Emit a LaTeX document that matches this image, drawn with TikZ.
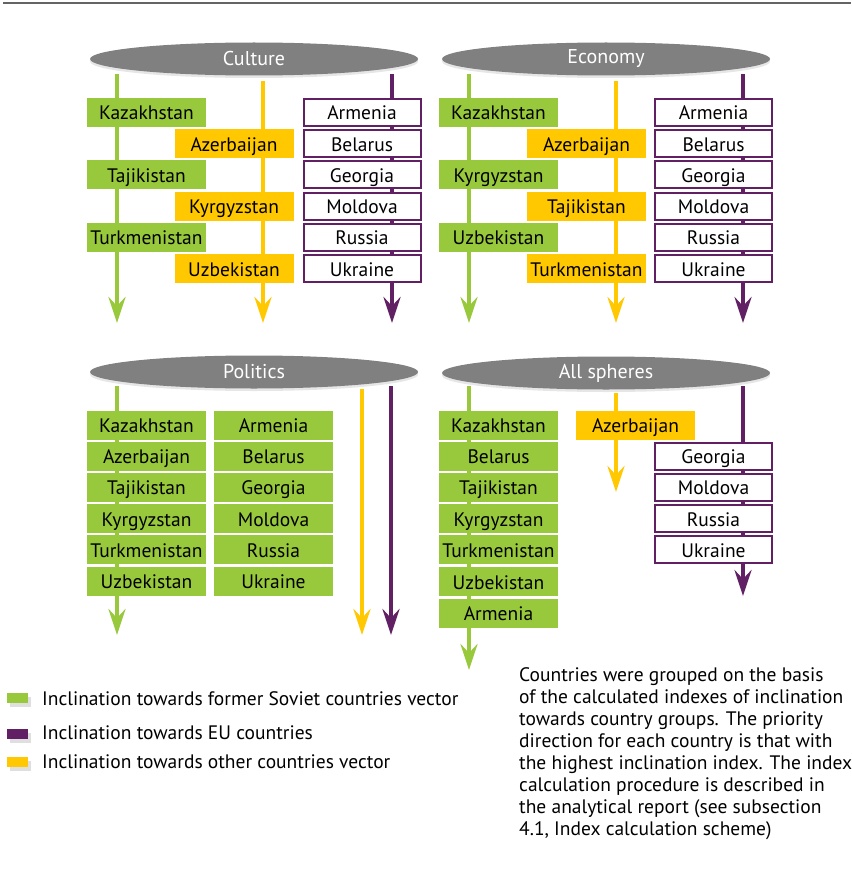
\documentclass[tikz,border=0pt]{standalone}
\usepackage{fontspec}
\setmainfont{PT Sans}
\usetikzlibrary{arrows.meta, shapes.geometric, shadows}
\definecolor{SovietGreen}{RGB}{152,200,60}
\definecolor{OtherYellow}{RGB}{255,200,0}
\definecolor{EUPurple}{RGB}{98,32,100}
\definecolor{SphereGray}{RGB}{128,128,128}
\definecolor{RuleGray}{RGB}{100,100,100}

\begin{document}
\begin{tikzpicture}[x=1pt, y=-1pt,
    sphere/.style={ellipse, fill=SphereGray, text=white, inner sep=0pt,
                   minimum width=328pt, minimum height=33pt,
                   font=\fontsize{20}{22}\selectfont,
                   drop shadow={shadow xshift=0pt, shadow yshift=-2.5pt, opacity=0.2}},
    cbox/.style={inner sep=0pt, minimum width=119pt, minimum height=29pt,
                 text height=17pt, text depth=2pt,
                 font=\fontsize{19.5}{21}\selectfont},
    gbox/.style={cbox, fill=SovietGreen},
    ybox/.style={cbox, fill=OtherYellow},
    pbox/.style={cbox, draw=EUPurple, fill=white, line width=2pt,
                 minimum width=117pt, minimum height=27pt},
    varr/.style={line width=4pt, -{Stealth[length=26pt, width=17pt, inset=9pt]}},
    garr/.style={varr, SovietGreen},
    yarr/.style={varr, OtherYellow},
    parr/.style={varr, EUPurple},
    key/.style={minimum width=21pt, minimum height=10pt, inner sep=0pt,
                drop shadow={shadow xshift=3pt, shadow yshift=-4pt, opacity=0.25}},
    keytext/.style={anchor=west, inner sep=0pt, font=\fontsize{19.5}{22}\selectfont}
  ]
  \useasboundingbox (0,0) rectangle (851,872);
  % Top rule
  \draw[RuleGray, line width=1.5pt] (3,3) coordinate (r1) -- (851,3) coordinate (r2);

  % Culture
  \draw[garr] (117,74) coordinate (cg1) -- (117,323) coordinate (cg2);
  \draw[yarr] (263,81) coordinate (cy1) -- (263,323) coordinate (cy2);
  \draw[parr] (392,74) coordinate (cp1) -- (392,323) coordinate (cp2);
  \node[sphere] (culture) at (254,59) {Culture};
  \node[gbox] (c-kaz) at (146.5,112.5) {Kazakhstan};
  \node[ybox] (c-aze) at (234,143.7) {Azerbaijan};
  \node[gbox] (c-taj) at (146.5,174.9) {Tajikistan};
  \node[ybox] (c-kyr) at (234,206.1) {Kyrgyzstan};
  \node[gbox] (c-tur) at (146.5,237.3) {Turkmenistan};
  \node[ybox] (c-uzb) at (234,268.5) {Uzbekistan};
  \node[pbox] (c-arm) at (362,112.5) {Armenia};
  \node[pbox] (c-bel) at (362,143.7) {Belarus};
  \node[pbox] (c-geo) at (362,174.9) {Georgia};
  \node[pbox] (c-mol) at (362,206.1) {Moldova};
  \node[pbox] (c-rus) at (362,237.3) {Russia};
  \node[pbox] (c-ukr) at (362,268.5) {Ukraine};

  % Economy
  \draw[garr] (469,74) coordinate (eg1) -- (469,323) coordinate (eg2);
  \draw[yarr] (616,81) coordinate (ey1) -- (616,323) coordinate (ey2);
  \draw[parr] (743,74) coordinate (ep1) -- (743,323) coordinate (ep2);
  \node[sphere] (economy) at (606,59) {Economy};
  \node[gbox] (e-kaz) at (498.5,112.5) {Kazakhstan};
  \node[ybox] (e-aze) at (586.5,143.7) {Azerbaijan};
  \node[gbox] (e-kyr) at (498.5,174.9) {Kyrgyzstan};
  \node[ybox] (e-taj) at (586.5,206.1) {Tajikistan};
  \node[gbox] (e-uzb) at (498.5,237.3) {Uzbekistan};
  \node[ybox] (e-tur) at (586.5,268.5) {Turkmenistan};
  \node[pbox] (e-arm) at (713.5,112.5) {Armenia};
  \node[pbox] (e-bel) at (713.5,143.7) {Belarus};
  \node[pbox] (e-geo) at (713.5,174.9) {Georgia};
  \node[pbox] (e-mol) at (713.5,206.1) {Moldova};
  \node[pbox] (e-rus) at (713.5,237.3) {Russia};
  \node[pbox] (e-ukr) at (713.5,268.5) {Ukraine};

  % Politics
  \draw[garr] (117,386) coordinate (pg1) -- (117,635) coordinate (pg2);
  \draw[yarr] (362,389) coordinate (py1) -- (362,635) coordinate (py2);
  \draw[parr] (391,386) coordinate (pp1) -- (391,635) coordinate (pp2);
  \node[sphere] (politics) at (254,372) {Politics};
  \node[gbox] (p-kaz) at (146.5,425) {Kazakhstan};
  \node[gbox] (p-aze) at (146.5,456.2) {Azerbaijan};
  \node[gbox] (p-taj) at (146.5,487.4) {Tajikistan};
  \node[gbox] (p-kyr) at (146.5,518.6) {Kyrgyzstan};
  \node[gbox] (p-tur) at (146.5,549.8) {Turkmenistan};
  \node[gbox] (p-uzb) at (146.5,581) {Uzbekistan};
  \node[gbox] (p-arm) at (273.5,425) {Armenia};
  \node[gbox] (p-bel) at (273.5,456.2) {Belarus};
  \node[gbox] (p-geo) at (273.5,487.4) {Georgia};
  \node[gbox] (p-mol) at (273.5,518.6) {Moldova};
  \node[gbox] (p-rus) at (273.5,549.8) {Russia};
  \node[gbox] (p-ukr) at (273.5,581) {Ukraine};

  % All spheres
  \draw[garr] (469,386) coordinate (ag1) -- (469,670) coordinate (ag2);
  \draw[yarr] (616,393) coordinate (ay1) -- (616,492) coordinate (ay2);
  \draw[parr] (743,386) coordinate (ap1) -- (743,596) coordinate (ap2);
  \node[sphere] (allsph) at (606,373) {All spheres};
  \node[gbox] (a-kaz) at (498.5,425) {Kazakhstan};
  \node[gbox] (a-bel) at (498.5,456.2) {Belarus};
  \node[gbox] (a-taj) at (498.5,487.4) {Tajikistan};
  \node[gbox] (a-kyr) at (498.5,518.6) {Kyrgyzstan};
  \node[gbox] (a-tur) at (498.5,549.8) {Turkmenistan};
  \node[gbox] (a-uzb) at (498.5,581.5) {Uzbekistan};
  \node[gbox] (a-arm) at (498.5,613) {Armenia};
  \node[ybox] (a-aze) at (635.5,425) {Azerbaijan};
  \node[pbox] (a-geo) at (713.5,456.2) {Georgia};
  \node[pbox] (a-mol) at (713.5,487.4) {Moldova};
  \node[pbox] (a-rus) at (713.5,518.6) {Russia};
  \node[pbox] (a-ukr) at (713.5,549.8) {Ukraine};

  % Legend
  \node[key, fill=SovietGreen] (k-green) at (17.5,698) {};
  \node[key, fill=EUPurple] (k-purple) at (17.5,733.5) {};
  \node[key, fill=OtherYellow] (k-yellow) at (17.5,762) {};
  \node[keytext] (t-green) at (42,699) {Inclination towards former Soviet countries vector};
  \node[keytext] (t-purple) at (42,733) {Inclination towards EU countries};
  \node[keytext] (t-yellow) at (42,762) {Inclination towards other countries vector};

  % Note
  \node[anchor=north west, inner sep=0pt, align=left,
        font=\fontsize{19.5}{22}\selectfont] (note) at (519,667)
    {Countries were grouped on the basis\\
     of the calculated indexes of inclination\\
     towards country groups. The priority\\
     direction for each country is that with\\
     the highest inclination index. The index\\
     calculation procedure is described in\\
     the analytical report (see subsection\\
     4.1, Index calculation scheme)};
\end{tikzpicture}
\end{document}
